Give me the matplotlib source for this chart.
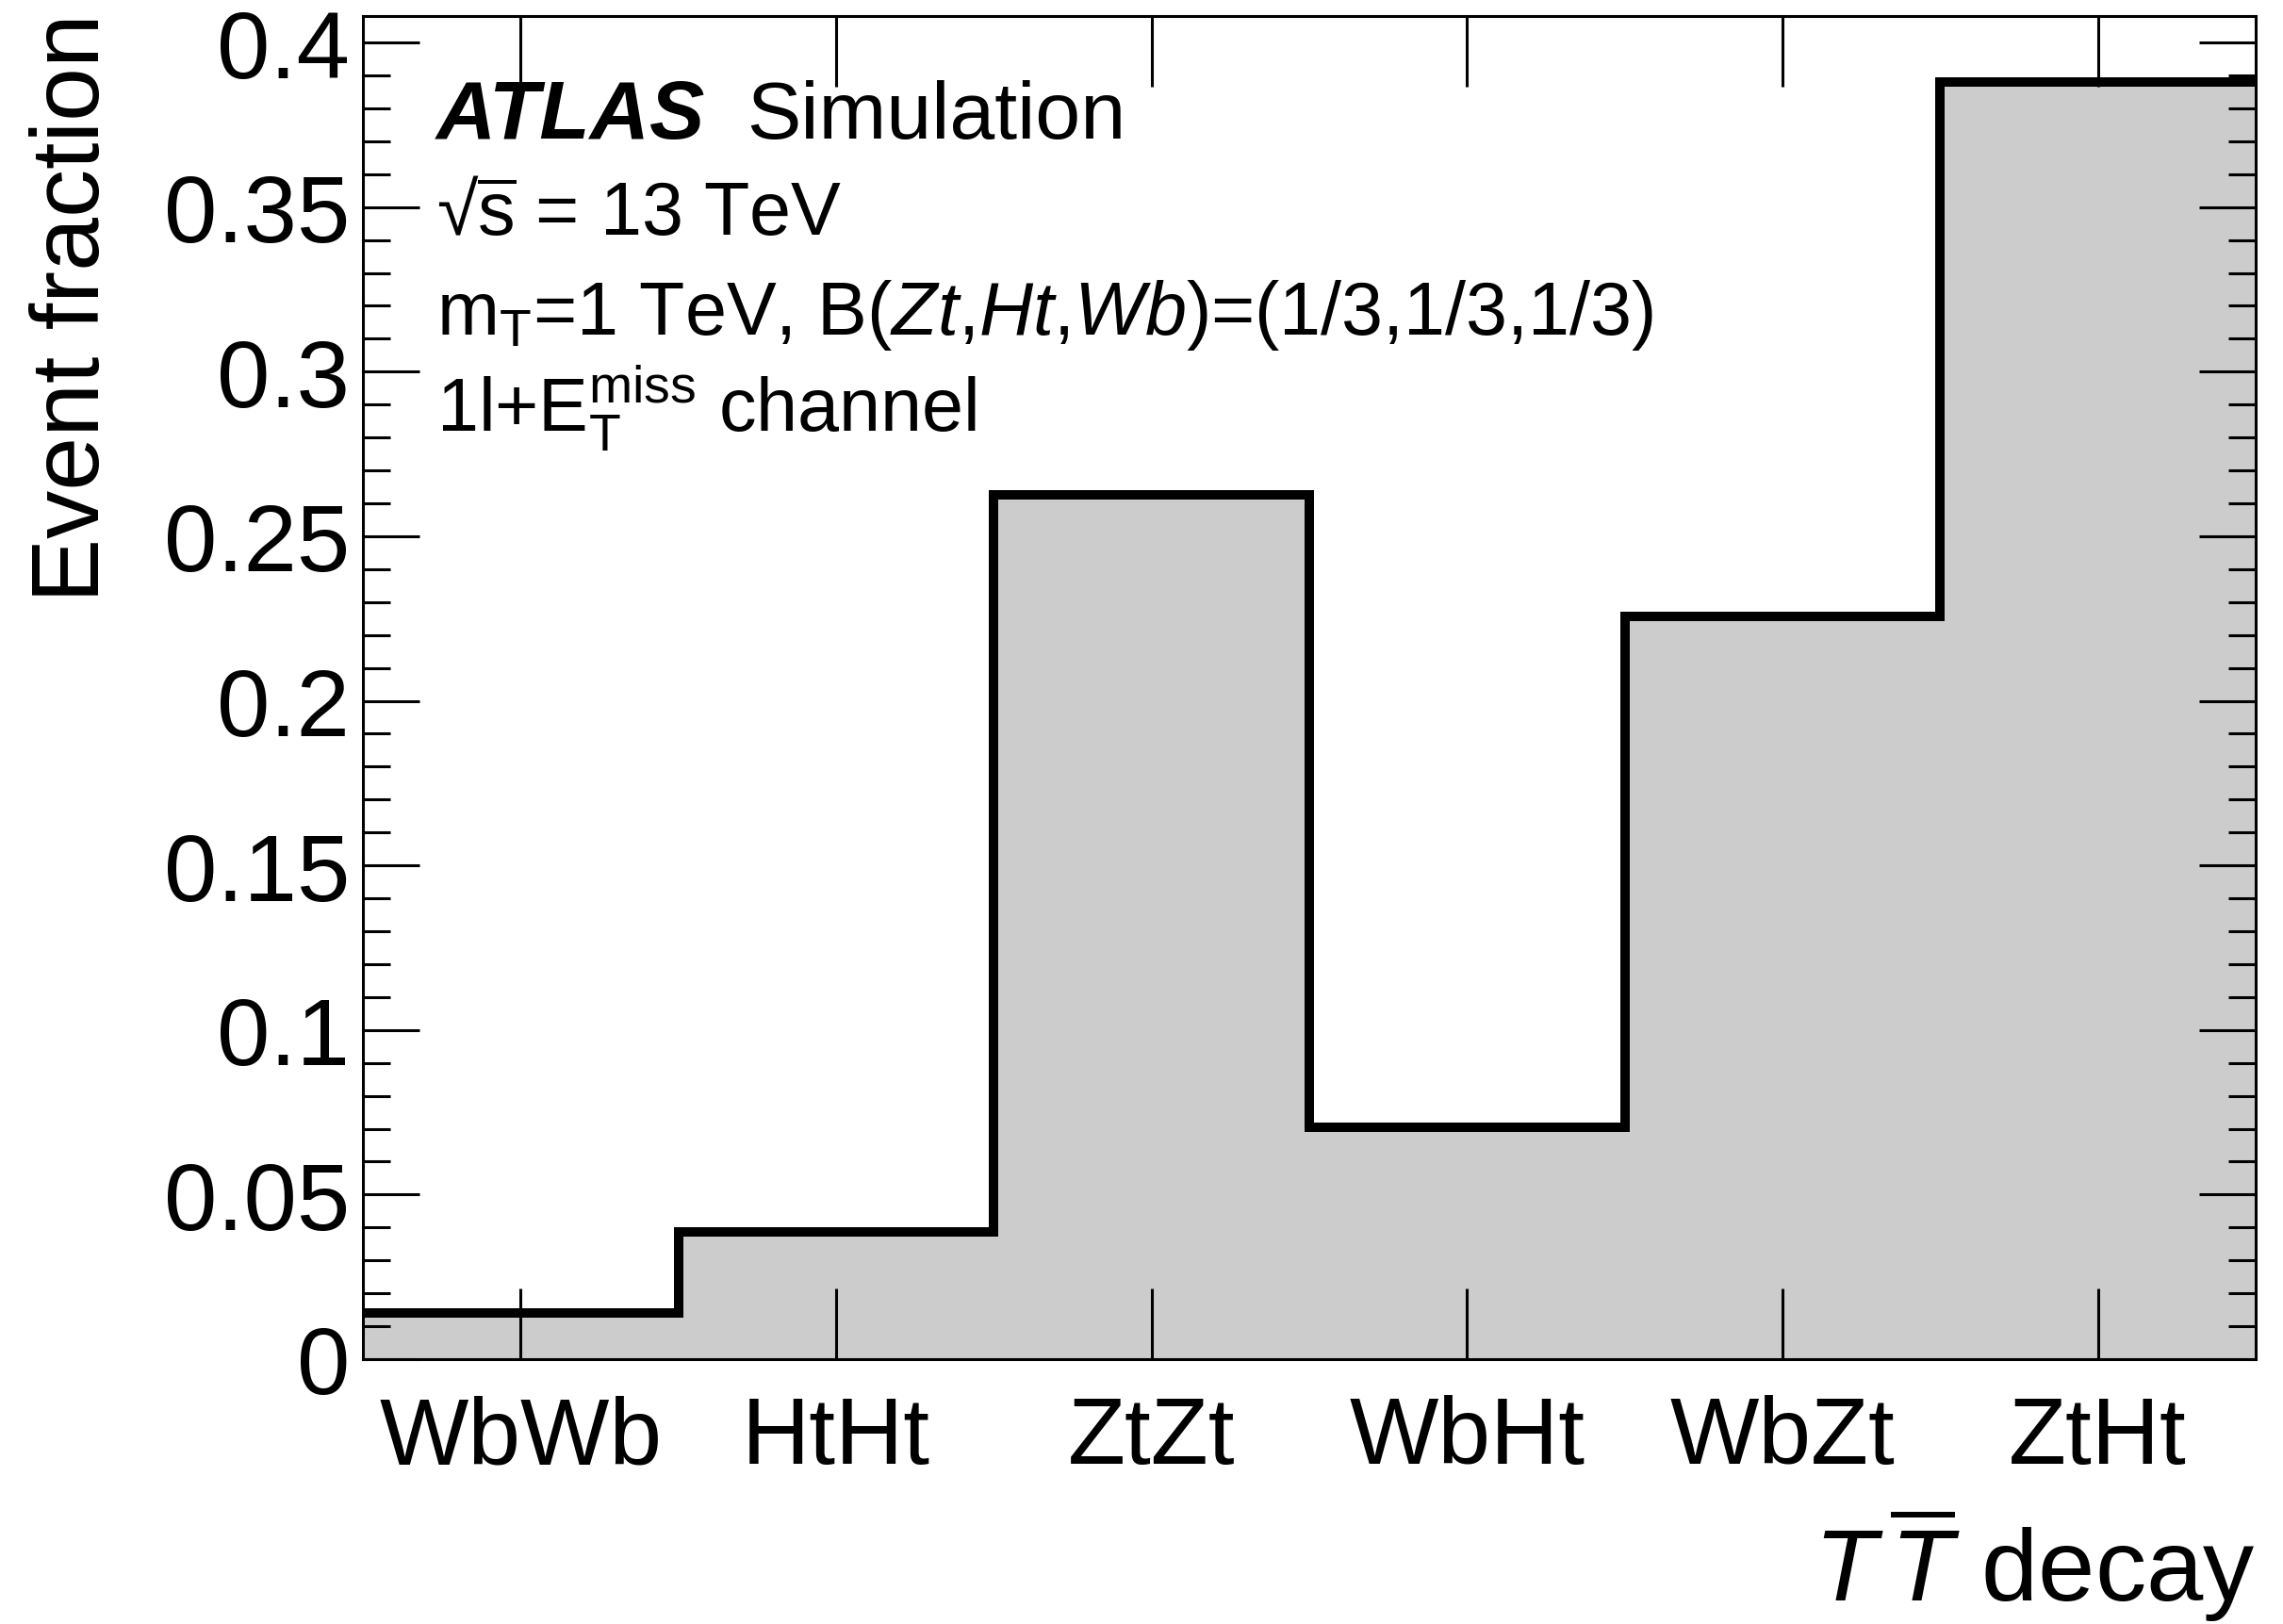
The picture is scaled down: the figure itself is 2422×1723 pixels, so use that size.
import matplotlib
matplotlib.use('Agg')
import matplotlib.pyplot as plt
from matplotlib.ticker import MultipleLocator, FuncFormatter
import numpy as np

# decay modes and event fractions
decays = ['WbWb', 'HtHt', 'ZtZt', 'WbHt', 'WbZt', 'ZtHt']
fractions = [0.0140, 0.0387, 0.2627, 0.0705, 0.2257, 0.3880]

plt.rcParams['font.family'] = ['Liberation Sans', 'DejaVu Sans']
plt.rcParams['mathtext.fontset'] = 'custom'
plt.rcParams['mathtext.rm'] = 'Liberation Sans'
plt.rcParams['mathtext.it'] = 'Liberation Sans:italic'
plt.rcParams['mathtext.bf'] = 'Liberation Sans:bold'

fig = plt.figure(figsize=(24.22, 17.24), dpi=100)
ax = fig.add_axes([0.159, 0.1630, 0.829, 0.8265])

edges = np.arange(len(decays) + 1)
ax.stairs(fractions, edges, fill=True, color='#cccccc', zorder=1)
ax.stairs(fractions, edges, baseline=None, color='black', lw=7.2, zorder=2)

ax.set_xlim(0, len(decays))
ax.set_ylim(0, 0.408)

ax.set_xticks(edges[:-1] + 0.5)
ax.set_xticklabels(decays)
ax.yaxis.set_major_locator(MultipleLocator(0.05))
ax.yaxis.set_minor_locator(MultipleLocator(0.01))
ax.yaxis.set_major_formatter(FuncFormatter(lambda v, _: f'{v:g}'))

ax.tick_params(axis='both', which='both', direction='in', width=2.2, colors='black')
ax.tick_params(axis='y', which='major', length=43, left=True, right=True, labelsize=73, pad=10)
ax.tick_params(axis='y', which='minor', length=21, left=True, right=True)
ax.tick_params(axis='x', which='major', length=54, top=True, bottom=True, labelsize=72, pad=27)
for s in ax.spines.values():
    s.set_linewidth(2.2)
    s.set_zorder(3)

fig.text(0.0128, 0.992, 'Event fraction', rotation=90, ha='left', va='top', fontsize=73.5)
fig.text(0.988, 0.0145, r'$T\,\overline{T}$ decay', ha='right', va='baseline', fontsize=78)

fig.text(0.191, 0.9147, 'ATLAS', fontsize=63, fontweight='bold', fontstyle='italic', va='baseline')
fig.text(0.327, 0.9147, 'Simulation', fontsize=62, va='baseline')
fig.text(0.191, 0.855, r'√$\overline{\mathrm{s}}$ = 13 TeV', fontsize=57, va='baseline')
fig.text(0.191, 0.794, r'm$_\mathrm{T}$=1 TeV, B($Zt$,$Ht$,$Wb$)=(1/3,1/3,1/3)', fontsize=57, va='baseline')
fig.text(0.191, 0.735, r'1l+E$_\mathrm{T}^\mathrm{miss}$ channel', fontsize=57, va='baseline')

fig.savefig('out.png', dpi=100)
